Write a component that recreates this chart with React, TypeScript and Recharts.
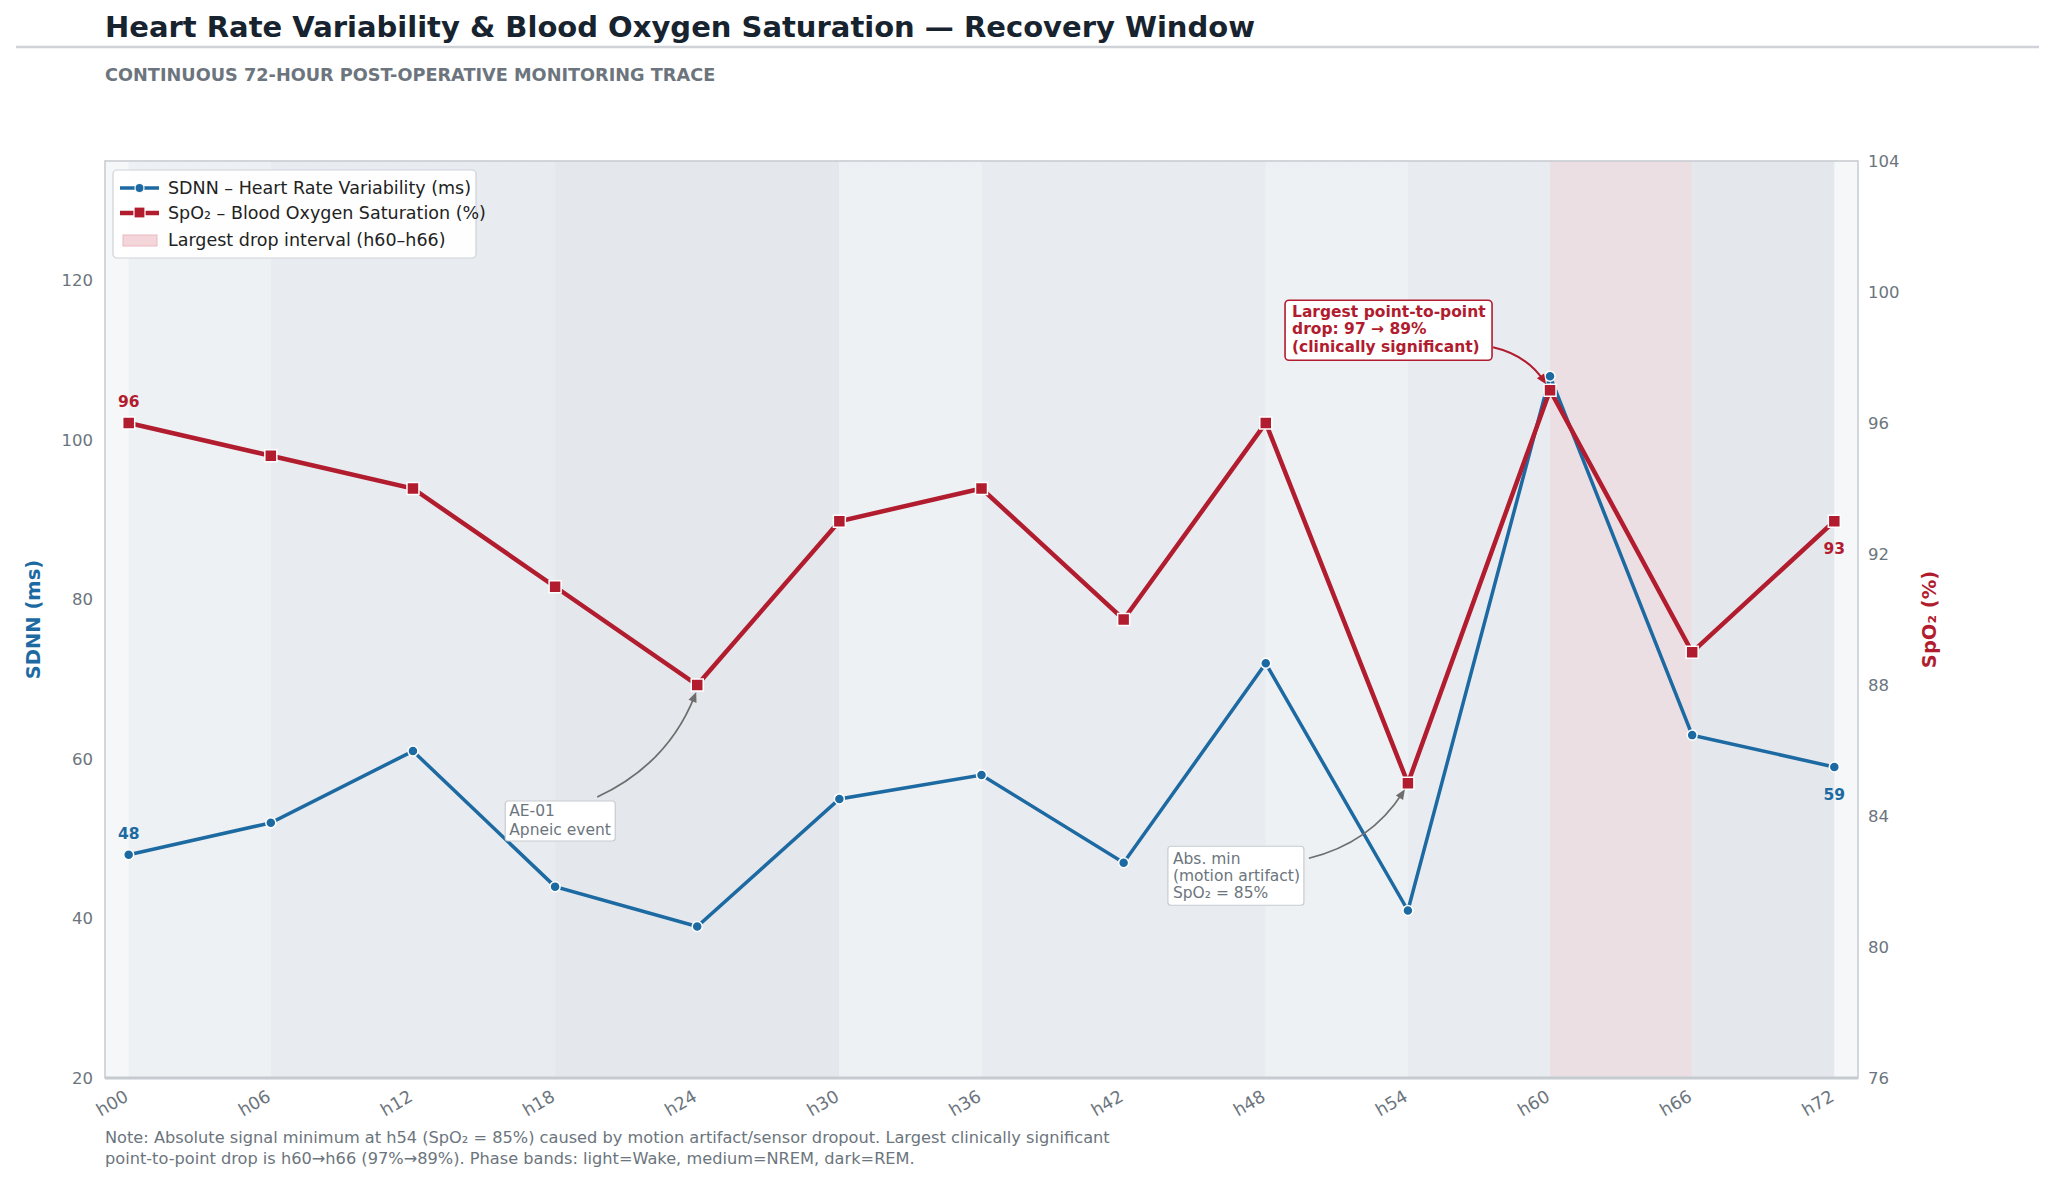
import React from 'react';
import {
  LineChart, Line, XAxis, YAxis, CartesianGrid, ReferenceArea, ReferenceDot,
} from 'recharts';

// ---------- DATA ----------
const hours = [0, 6, 12, 18, 24, 30, 36, 42, 48, 54, 60, 66, 72];
const hourLabels = ['h00', 'h06', 'h12', 'h18', 'h24', 'h30', 'h36', 'h42', 'h48', 'h54', 'h60', 'h66', 'h72'];
const sdnn = [48, 52, 61, 44, 39, 55, 58, 47, 72, 41, 108, 63, 59];
const spo2 = [96, 95, 94, 91, 88, 93, 94, 90, 96, 85, 97, 89, 93];
const leftTicks = [20, 40, 60, 80, 100, 120];
const rightTicks = [76, 80, 84, 88, 92, 96, 100, 104];
const bandStarts = [0, 6, 18, 30, 36, 48, 54, 60, 66];
const bandEnds = [6, 18, 30, 36, 48, 54, 60, 66, 72];
const bandPhases = ['wake', 'nrem', 'rem', 'wake', 'nrem', 'wake', 'nrem', 'drop', 'rem'];

const data = hours.map((h, i) => ({ hour: h, label: hourLabels[i], sdnn: sdnn[i], spo2: spo2[i] }));

// ---------- STYLE ----------
const W = 2055;
const H = 1182;
const BLUE = '#1c6aa1';
const RED = '#b11c2e';
const GRAY = '#6c757d';
const DARK = '#17232e';
const FONT = '"DejaVu Sans", Verdana, sans-serif';
const phaseFill: Record<string, string> = {
  wake: '#edf1f4',
  nrem: '#e8ebf0',
  rem: '#e4e8ed',
  drop: '#ebdfe3',
};

function curvedArrow(x1: number, y1: number, x2: number, y2: number, curv: number, color: string, width: number) {
  const mx = (x1 + x2) / 2;
  const my = (y1 + y2) / 2;
  const dx = x2 - x1;
  const dy = y2 - y1;
  const cx = mx + dy * curv;
  const cy = my - dx * curv;
  const ang = Math.atan2(y2 - cy, x2 - cx);
  const L = 11;
  const a1 = ang + Math.PI - 0.4;
  const a2 = ang + Math.PI + 0.4;
  const p1 = `${x2 + L * Math.cos(a1)},${y2 + L * Math.sin(a1)}`;
  const p2 = `${x2 + L * Math.cos(a2)},${y2 + L * Math.sin(a2)}`;
  return (
    <g>
      <path d={`M${x1},${y1} Q${cx},${cy} ${x2 - 4 * Math.cos(ang)},${y2 - 4 * Math.sin(ang)}`} fill="none" stroke={color} strokeWidth={width} />
      <polygon points={`${x2},${y2} ${p1} ${p2}`} fill={color} />
    </g>
  );
}

const XTick = (props: any) => {
  const { x, y, payload } = props;
  const lbl = hourLabels[hours.indexOf(payload.value)];
  return (
    <text x={x + 1} y={y + 14} transform={`rotate(-30, ${x + 1}, ${y + 14})`} textAnchor="end"
      fill={GRAY} fontSize={17.5} fontFamily={FONT}>
      {lbl}
    </text>
  );
};

const SquareDot = (props: any) => {
  const { cx, cy, index } = props;
  if (cx == null || cy == null) return <g key={`sq-${index}`} />;
  return <rect key={`sq-${index}`} x={cx - 6} y={cy - 6} width={12} height={12} fill={RED} stroke="#fff" strokeWidth={1.5} />;
};

const CircleDot = (props: any) => {
  const { cx, cy, index } = props;
  if (cx == null || cy == null) return <g key={`ci-${index}`} />;
  return <circle key={`ci-${index}`} cx={cx} cy={cy} r={5} fill={BLUE} stroke="#fff" strokeWidth={1.5} />;
};

const endLabel = (color: string) => (props: any) => {
  const { x, y, value, index } = props;
  if (index === 0) {
    return <text key={`l-${index}`} x={x} y={y - 16} textAnchor="middle" fill={color} fontSize={15.5} fontWeight="bold" fontFamily={FONT}>{value}</text>;
  }
  if (index === hours.length - 1) {
    return <text key={`l-${index}`} x={x} y={y + 33} textAnchor="middle" fill={color} fontSize={15.5} fontWeight="bold" fontFamily={FONT}>{value}</text>;
  }
  return <g key={`l-${index}`} />;
};

const DropAnnotation = (props: any) => {
  const { cx, cy } = props;
  return (
    <g>
      {curvedArrow(cx - 57, cy - 43, cx - 4, cy - 6, 0.2, RED, 2)}
      <rect x={cx - 265} y={cy - 90} width={207} height={60} rx={4} fill="#fff" stroke={RED} strokeWidth={1.6} />
      <text fill={RED} fontSize={15.5} fontWeight="bold" fontFamily={FONT}>
        <tspan x={cx - 258} y={cy - 73}>Largest point-to-point</tspan>
        <tspan x={cx - 258} y={cy - 56}>drop: 97 → 89%</tspan>
        <tspan x={cx - 258} y={cy - 38}>(clinically significant)</tspan>
      </text>
    </g>
  );
};

const ApneaAnnotation = (props: any) => {
  const { cx, cy } = props;
  return (
    <g>
      {curvedArrow(cx - 100, cy + 112, cx - 1, cy + 7, -0.2, '#6e6e6e', 1.8)}
      <rect x={cx - 192} y={cy + 116} width={110} height={40} rx={3} fill="#fff" stroke="#c8cbcf" strokeWidth={1.2} />
      <text fill={GRAY} fontSize={15.5} fontFamily={FONT}>
        <tspan x={cx - 188} y={cy + 131}>AE-01</tspan>
        <tspan x={cx - 188} y={cy + 150}>Apneic event</tspan>
      </text>
    </g>
  );
};

const MinAnnotation = (props: any) => {
  const { cx, cy } = props;
  return (
    <g>
      {curvedArrow(cx - 99, cy + 75, cx - 3, cy + 6, -0.2, '#6e6e6e', 1.8)}
      <rect x={cx - 240} y={cy + 63} width={136} height={59} rx={3} fill="#fff" stroke="#c8cbcf" strokeWidth={1.2} />
      <text fill={GRAY} fontSize={15.5} fontFamily={FONT}>
        <tspan x={cx - 235} y={cy + 81}>Abs. min</tspan>
        <tspan x={cx - 235} y={cy + 98}>(motion artifact)</tspan>
        <tspan x={cx - 235} y={cy + 115}>SpO₂ = 85%</tspan>
      </text>
    </g>
  );
};

export default function App() {
  return (
    <div style={{ position: 'absolute', left: 0, top: 0, width: W, height: H, background: '#fff', overflow: 'hidden' }}>
      <div style={{ position: 'absolute', left: 0, top: 0 }}>
        <LineChart width={W} height={H} data={data} margin={{ top: 161, right: 137, bottom: 74, left: 45 }}>
          <ReferenceArea yAxisId="left" x1={-1} x2={73} y1={20} y2={135} fill="#f5f7f9" fillOpacity={1} stroke="none" />
          {bandStarts.map((s, i) => (
            <ReferenceArea key={`band-${i}`} yAxisId="left" x1={s} x2={bandEnds[i]} y1={20} y2={135}
              fill={phaseFill[bandPhases[i]]} fillOpacity={1} stroke="none" />
          ))}
          <CartesianGrid yAxisId="left" vertical={false} stroke="#d9dde2" strokeDasharray="2 3" />
          <ReferenceArea yAxisId="left" x1={-1} x2={73} y1={20} y2={135} fill="none" stroke="#c6cbd1" strokeWidth={1.5} />
          <XAxis dataKey="hour" type="number" domain={[-1, 73]} ticks={hours} interval={0}
            height={30} tick={<XTick />} tickLine={false} axisLine={{ stroke: '#c6cbd1', strokeWidth: 3 }} />
          <YAxis yAxisId="left" domain={[20, 135]} ticks={leftTicks} width={60} tickLine={false} tickSize={6} tickMargin={6}
            axisLine={false} tick={{ fill: GRAY, fontSize: 16.5, fontFamily: FONT }}
            label={{
              content: (p: any) => {
                const vb = p.viewBox;
                const x = 33;
                const y = vb.y + vb.height / 2;
                return <text x={x} y={y} transform={`rotate(-90, ${x}, ${y})`} textAnchor="middle" dominantBaseline="central"
                  fill={BLUE} fontSize={19.5} fontWeight="bold" fontFamily={FONT}>SDNN (ms)</text>;
              },
            }} />
          <YAxis yAxisId="right" orientation="right" domain={[76, 104]} ticks={rightTicks} width={60} tickLine={false}
            tickSize={4} tickMargin={6} axisLine={false} tick={{ fill: GRAY, fontSize: 16.5, fontFamily: FONT }}
            label={{
              content: (p: any) => {
                const vb = p.viewBox;
                const x = 1929;
                const y = vb.y + vb.height / 2;
                return <text x={x} y={y} transform={`rotate(-90, ${x}, ${y})`} textAnchor="middle" dominantBaseline="central"
                  fill={RED} fontSize={19.5} fontWeight="bold" fontFamily={FONT}>SpO₂ (%)</text>;
              },
            }} />
          <Line yAxisId="left" type="linear" dataKey="sdnn" stroke={BLUE} strokeWidth={3.5} dot={CircleDot}
            activeDot={false} isAnimationActive={false} label={endLabel(BLUE)} />
          <Line yAxisId="right" type="linear" dataKey="spo2" stroke={RED} strokeWidth={4.5} dot={SquareDot}
            activeDot={false} isAnimationActive={false} label={endLabel(RED)} />
          <ReferenceDot yAxisId="right" x={60} y={97} r={0} shape={DropAnnotation} />
          <ReferenceDot yAxisId="right" x={24} y={88} r={0} shape={ApneaAnnotation} />
          <ReferenceDot yAxisId="right" x={54} y={85} r={0} shape={MinAnnotation} />
        </LineChart>
      </div>
      <svg width={W} height={H} style={{ position: 'absolute', left: 0, top: 0, pointerEvents: 'none' }}>
        <text x={105} y={37} fill={DARK} fontSize={29} fontWeight="bold" fontFamily={FONT}>
          Heart Rate Variability &amp; Blood Oxygen Saturation — Recovery Window
        </text>
        <line x1={16} x2={2039} y1={47} y2={47} stroke="#cfd3d7" strokeWidth={2.5} />
        <text x={105} y={81} fill={GRAY} fontSize={17.7} fontWeight="bold" fontFamily={FONT}>
          CONTINUOUS 72-HOUR POST-OPERATIVE MONITORING TRACE
        </text>
        <text fill={GRAY} fontSize={16.2} fontFamily={FONT}>
          <tspan x={105} y={1143}>Note: Absolute signal minimum at h54 (SpO₂ = 85%) caused by motion artifact/sensor dropout. Largest clinically significant</tspan>
          <tspan x={105} y={1164}>point-to-point drop is h60→h66 (97%→89%). Phase bands: light=Wake, medium=NREM, dark=REM.</tspan>
        </text>
        {/* legend */}
        <g>
          <rect x={113} y={170} width={363} height={88} rx={4} fill="#fff" fillOpacity={0.92} stroke="#cdd2d7" strokeWidth={1.2} />
          <line x1={120} x2={159} y1={188} y2={188} stroke={BLUE} strokeWidth={3.5} />
          <circle cx={139.5} cy={188} r={4.5} fill={BLUE} stroke="#fff" strokeWidth={1.2} />
          <text x={168} y={194} fill="#222" fontSize={17.5} fontFamily={FONT}>SDNN – Heart Rate Variability (ms)</text>
          <line x1={120} x2={159} y1={213} y2={213} stroke={RED} strokeWidth={4.5} />
          <rect x={134} y={207} width={11} height={11} fill={RED} stroke="#fff" strokeWidth={1.2} />
          <text x={168} y={219} fill="#222" fontSize={17.5} fontFamily={FONT}>SpO₂ – Blood Oxygen Saturation (%)</text>
          <rect x={123} y={235} width={34} height={11} fill="#f3d5da" stroke="#eab9c1" strokeWidth={1} />
          <text x={168} y={246} fill="#222" fontSize={17.5} fontFamily={FONT}>Largest drop interval (h60–h66)</text>
        </g>
      </svg>
    </div>
  );
}
